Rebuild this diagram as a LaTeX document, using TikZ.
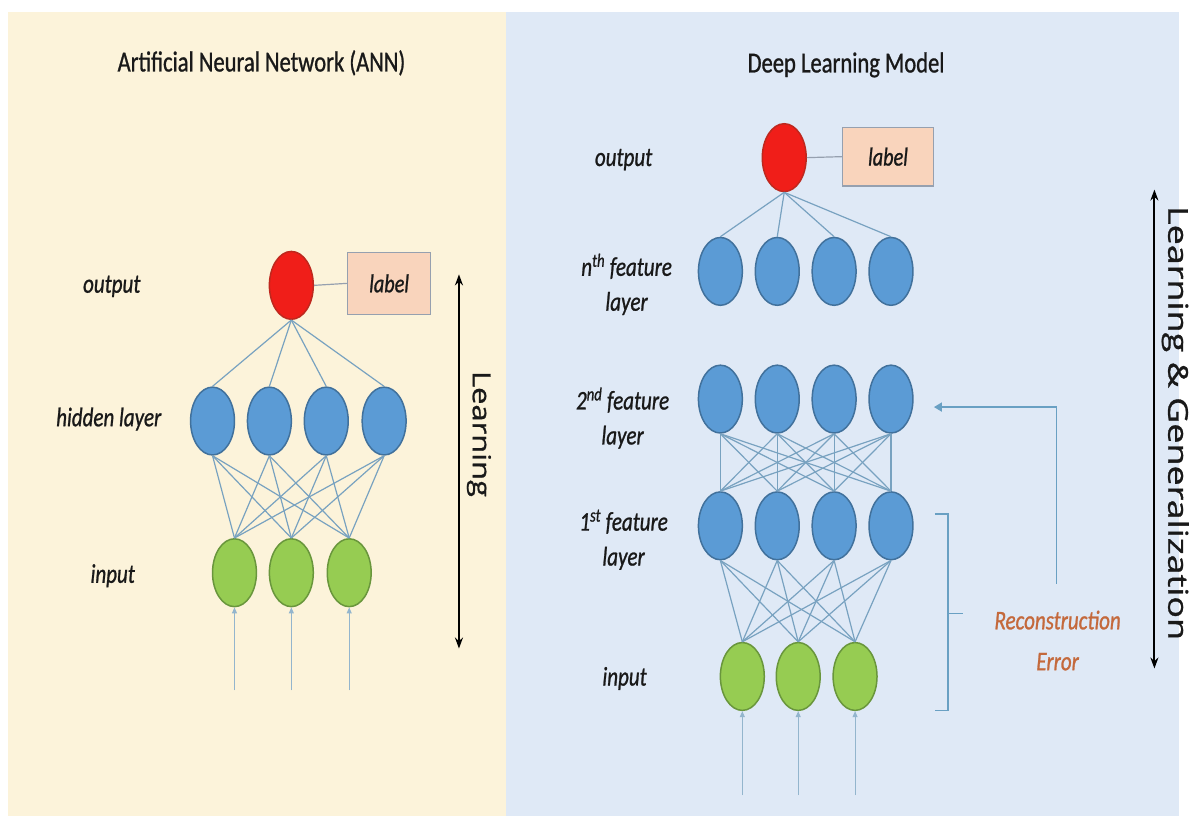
\documentclass[tikz,border=0pt]{standalone}
\usepackage{fontspec}
\setmainfont{Carlito}[FakeStretch=0.78, FakeBold=0.9]
\newfontfamily\sidefont{Open Sans}[FakeBold=0.9]
\usetikzlibrary{shapes.geometric,arrows.meta}

\definecolor{creambg}{RGB}{252,243,218}
\definecolor{bluebg}{RGB}{223,233,246}
\definecolor{nodeblue}{RGB}{91,155,213}
\definecolor{nodeblueline}{RGB}{65,113,156}
\definecolor{nodegreen}{RGB}{150,204,82}
\definecolor{nodegreenline}{RGB}{105,150,60}
\definecolor{nodered}{RGB}{240,30,25}
\definecolor{noderedline}{RGB}{190,40,30}
\definecolor{labelfill}{RGB}{249,212,188}
\definecolor{labelline}{RGB}{150,160,175}
\definecolor{wire}{RGB}{120,162,192}
\definecolor{feedwire}{RGB}{105,160,195}
\definecolor{errtext}{RGB}{196,105,60}
\definecolor{txt}{RGB}{25,25,25}

\begin{document}
\begin{tikzpicture}[x=1pt,y=-1pt,
  neuron/.style={ellipse, minimum width=44pt, minimum height=68pt, inner sep=0pt, line width=1.5pt},
  hid/.style={neuron, fill=nodeblue, draw=nodeblueline},
  inp/.style={neuron, fill=nodegreen, draw=nodegreenline},
  outn/.style={neuron, fill=nodered, draw=noderedline},
  tagbox/.style={rectangle, fill=labelfill, draw=labelline, line width=1.4pt, inner sep=0pt,
    text=txt, font=\fontsize{26}{30}\selectfont\itshape},
  lbl/.style={font=\fontsize{27}{35}\selectfont\itshape, text=txt, align=center, inner sep=0pt},
  ttl/.style={font=\fontsize{29}{34}\selectfont, text=txt, inner sep=0pt},
  sidetxt/.style={rotate=-90, inner sep=0pt, text=txt},
  wirestyle/.style={draw=wire, line width=1.2pt},
  tagwire/.style={draw=labelline, line width=1.2pt},
  inarrow/.style={draw=wire!80, line width=1pt, -{Triangle[width=5pt,length=6pt]}},
  learn/.style={draw=black, line width=2pt, {Stealth[width=8pt,length=11pt]}-{Stealth[width=8pt,length=11pt]}},
  feed/.style={draw=feedwire, line width=1.6pt, -{Triangle[width=9pt,length=8pt]}},
  brace/.style={draw=feedwire, line width=1.6pt},
  errlbl/.style={font=\fontsize{27}{41}\selectfont\itshape, text=errtext, align=center, inner sep=0pt}
]
% page and the two panels
\fill[white] (0,0) rectangle (1189,821);
\fill[creambg] (8,12) rectangle (507,818);
\fill[bluebg] (507,12) rectangle (1182,818);

% ---------------- left panel: ANN ----------------
\node[ttl] (annTitle) at (262,63) {Artificial Neural Network (ANN)};

\node[lbl] (annOutLbl) at (112,287) {output};
\node[lbl] (annHidLbl) at (109,420) {hidden layer};
\node[lbl] (annInLbl) at (113,577) {input};

\node[outn] (ao) at (292,286) {};
\node[tagbox, minimum width=83pt, minimum height=62pt] (al) at (390,284) {label};
\draw[tagwire] (ao.east) -- (al.west);

\foreach \x [count=\k] in {213,270,327,385}
  \node[hid] (ah\k) at (\x,422) {};
\foreach \x [count=\k] in {235,292,350}
  \node[inp] (ai\k) at (\x,574) {};

\foreach \h in {1,...,4}
  \draw[wirestyle] (ao.south) -- (ah\h.north);
\foreach \h in {1,...,4}
  \foreach \i in {1,...,3}
    \draw[wirestyle] (ah\h.south) -- (ai\i.north);

\foreach \x [count=\k] in {235,292,350} {
  \coordinate (as\k) at (\x,692);
  \draw[inarrow] (as\k) -- (ai\k.south);
}

\coordinate (annTop) at (460,275);
\coordinate (annBot) at (460,650);
\draw[learn] (annTop) -- (annBot);
\node[sidetxt, font=\sidefont\fontsize{31}{36}\selectfont] (annSide) at (480,435)
  {\scalebox{1}[0.8]{Learning}};

% ---------------- right panel: deep model ----------------
\node[ttl] (dlTitle) at (848,65) {Deep Learning Model};

\node[lbl] (dlOutLbl) at (625,160) {output};
\node[lbl] (dlNLbl) at (628,285) {n\textsuperscript{th} feature\\layer};
\node[lbl] (dlTwoLbl) at (624,419) {2\textsuperscript{nd} feature\\layer};
\node[lbl] (dlOneLbl) at (625,541) {1\textsuperscript{st} feature\\layer};
\node[lbl] (dlInLbl) at (626,680) {input};

\node[outn] (bo) at (786,158) {};
\node[tagbox, minimum width=91pt, minimum height=59pt] (bl) at (890,157) {label};
\draw[tagwire] (bo.east) -- (bl.west);

\foreach \x [count=\k] in {722,779,836,893} {
  \node[hid] (bn\k) at (\x,272) {};
  \node[hid] (bt\k) at (\x,400) {};
  \node[hid] (bf\k) at (\x,527) {};
}
\foreach \x [count=\k] in {744,800,857}
  \node[inp] (bi\k) at (\x,678) {};

\foreach \h in {1,...,4}
  \draw[wirestyle] (bo.south) -- (bn\h.north);
\foreach \a in {1,...,4}
  \foreach \b in {1,...,4}
    \draw[wirestyle] (bt\a.south) -- (bf\b.north);
\foreach \a in {1,...,4}
  \foreach \b in {1,...,3}
    \draw[wirestyle] (bf\a.south) -- (bi\b.north);

\foreach \x [count=\k] in {744,800,857} {
  \coordinate (bs\k) at (\x,797);
  \draw[inarrow] (bs\k) -- (bi\k.south);
}

% reconstruction error bracket and feedback path
\coordinate (brTop) at (937,515);
\coordinate (brBot) at (937,712);
\coordinate (brMid) at (950,615);
\coordinate (brTip) at (965,615);
\draw[brace] (brTop) -- (950,515) -- (950,712) -- (brBot);
\draw[brace] (brMid) -- (brTip);

\node[errlbl] (errLbl) at (1060,642) {Reconstruction\\Error};

\coordinate (fbStart) at (1059,585);
\coordinate (fbEnd) at (936,408);
\draw[feed] (fbStart) |- (fbEnd);

\coordinate (dlTop) at (1157,190);
\coordinate (dlBot) at (1157,670);
\draw[learn] (dlTop) -- (dlBot);
\node[sidetxt, font=\sidefont\fontsize{36}{42}\selectfont] (dlSide) at (1178,424)
  {\scalebox{1}[0.76]{Learning \& Generalization}};
\end{tikzpicture}
\end{document}
